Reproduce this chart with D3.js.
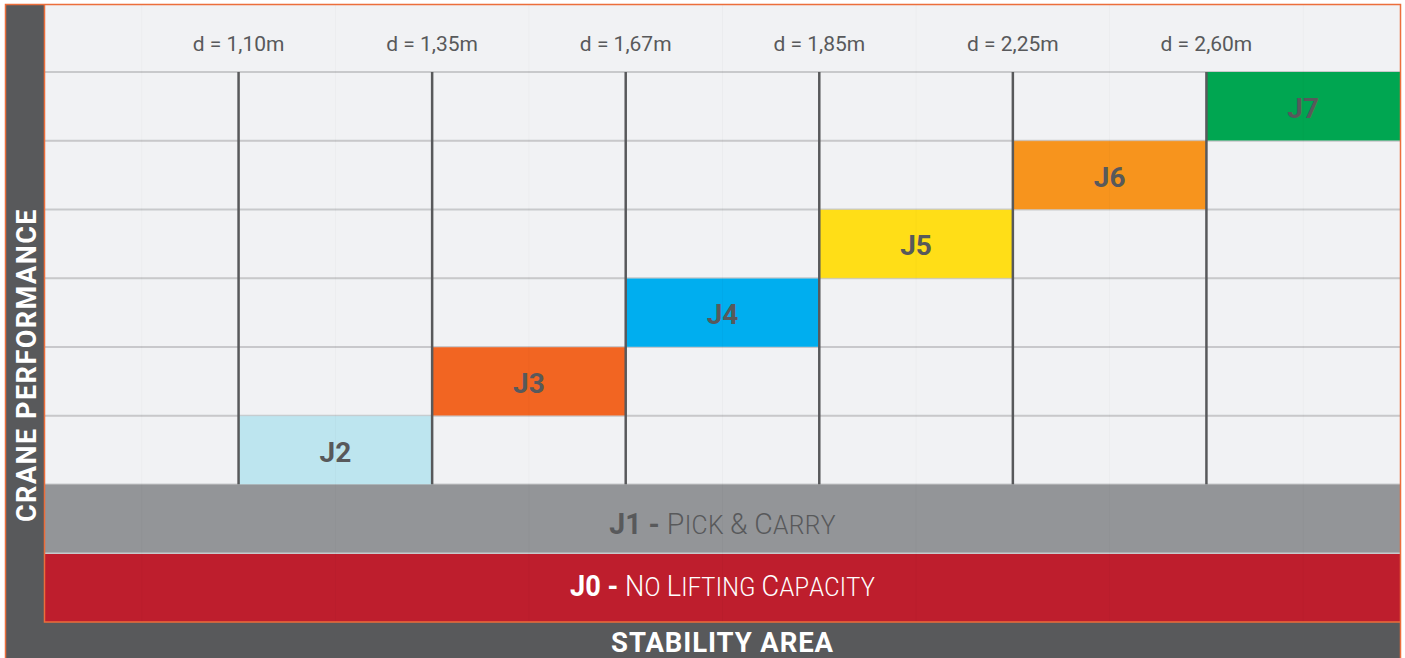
<!DOCTYPE html>
<html>
<head>
<meta charset="utf-8">
<script src="https://cdn.jsdelivr.net/npm/d3@7"></script>
<style>
  body { margin: 0; background: #fff; }
  text { font-family: Roboto, 'Noto Sans', sans-serif; }
</style>
</head>
<body>
<div id="app"></div>
<script>
(function (d3) {

  'use strict'

  // column boundary labels (stability width)
  const distances = ['d = 1,10m', 'd = 1,35m', 'd = 1,67m', 'd = 1,85m', 'd = 2,25m', 'd = 2,60m']
  // performance classes, each in its own column and row
  const classes = ['J2', 'J3', 'J4', 'J5', 'J6', 'J7']
  const classCol = [1, 2, 3, 4, 5, 6]
  const classLevel = [1, 2, 3, 4, 5, 6]
  const classColors = ['#bde5ef', '#f26522', '#00aeef', '#ffde17', '#f7941d', '#00a651']
  // base bands
  const bands = [
    { bold: 'J1 - ', rest: 'Pick & Carry', fill: '#939598', ink: '#58595b', level: 0, dy: 15.5, sx: 0.95 },
    { bold: 'J0 - ', rest: 'No Lifting Capacity', fill: '#be1e2d', ink: '#ffffff', level: -1, dy: 8, sx: 0.905 }
  ]

  const w = 1405
  const h = 658
  const nCols = 7
  const nLevels = 6

  const svg = d3.select('#app')
    .append('svg')
    .attr('width', w)
    .attr('height', h)

  const x = d3.scaleLinear().domain([0, nCols]).range([45, 1400])
  // level 6 top -> level -1 bottom
  const y = d3.scaleLinear().domain([nLevels, -2]).range([72, 622])
  const rowH = y(0) - y(1)

  const dark = '#58595b'
  const orange = '#ec6e3b'

  // frame
  svg.append('rect')
    .attr('x', 5).attr('y', 4).attr('width', 1395).attr('height', h)
    .attr('fill', dark)
  svg.append('rect')
    .attr('x', x(0)).attr('y', 4).attr('width', x(nCols) - x(0)).attr('height', y(-2) - 4)
    .attr('fill', '#f1f2f4')

  // grid lines
  svg.append('g')
    .selectAll('line')
    .data(d3.range(0, nLevels + 1))
    .join('line')
    .attr('x1', x(0)).attr('x2', x(nCols))
    .attr('y1', d => y(d)).attr('y2', d => y(d))
    .attr('stroke', '#c8c9cb')
    .attr('stroke-width', 2)

  // class cells
  const cells = svg.append('g')
    .selectAll('g')
    .data(classes)
    .join('g')
  cells.append('rect')
    .attr('x', (d, i) => x(classCol[i]))
    .attr('y', (d, i) => y(classLevel[i]))
    .attr('width', x(1) - x(0))
    .attr('height', rowH)
    .attr('fill', (d, i) => classColors[i])
  cells.append('text')
    .attr('x', (d, i) => x(classCol[i] + 0.5))
    .attr('y', (d, i) => y(classLevel[i] - 0.5) + 11.5)
    .attr('text-anchor', 'middle')
    .attr('font-size', 28)
    .attr('font-weight', 700)
    .attr('fill', dark)
    .text(d => d)

  svg.append('g')
    .selectAll('line')
    .data(d3.range(1, nLevels))
    .join('line')
    .attr('x1', x(0)).attr('x2', x(nCols))
    .attr('y1', d => y(d)).attr('y2', d => y(d))
    .attr('stroke', '#c8c9cb')
    .attr('stroke-opacity', 0.5)
    .attr('stroke-width', 1)

  // vertical boundaries
  svg.append('g')
    .selectAll('line')
    .data(distances)
    .join('line')
    .attr('x1', (d, i) => x(i + 1)).attr('x2', (d, i) => x(i + 1))
    .attr('y1', y(nLevels)).attr('y2', y(0))
    .attr('stroke', dark)
    .attr('stroke-width', 2.5)

  // header labels
  svg.append('g')
    .selectAll('text')
    .data(distances)
    .join('text')
    .attr('x', (d, i) => x(i + 1))
    .attr('y', 50.5)
    .attr('text-anchor', 'middle')
    .attr('font-size', 21)
    .attr('fill', dark)
    .text(d => d)

  // base bands
  const bg = svg.append('g')
    .selectAll('g')
    .data(bands)
    .join('g')
  bg.append('rect')
    .attr('x', x(0)).attr('width', x(nCols) - x(0))
    .attr('y', d => y(d.level))
    .attr('height', rowH)
    .attr('fill', d => d.fill)
  const bt = bg.append('text')
    .attr('transform', d => `translate(${x(nCols / 2)},${y(d.level - 0.5) + d.dy}) scale(${d.sx},1)`)
    .attr('text-anchor', 'middle')
    .attr('font-size', 30)
    .attr('fill', d => d.ink)
  bt.append('tspan').attr('font-weight', 700).text(d => d.bold)
  // hand-made small caps
  bt.each(function (d) {
    const t = d3.select(this)
    d.rest.split('').forEach(c => {
      const big = c !== c.toLowerCase() || c === '&'
      t.append('tspan')
        .attr('font-size', big ? 30 : 26)
        .attr('font-weight', 300)
        .attr('letter-spacing', 0.3)
        .text(c === ' ' ? '\u00a0' : c.toUpperCase())
    })
  })

  svg.append('line')
    .attr('x1', x(0)).attr('x2', x(nCols))
    .attr('y1', y(-1)).attr('y2', y(-1))
    .attr('stroke', '#c8c9cb').attr('stroke-width', 1.5)

  // faint half-column lines
  svg.append('g')
    .selectAll('line')
    .data(d3.range(0.5, nCols, 1))
    .join('line')
    .attr('x1', d => x(d)).attr('x2', d => x(d))
    .attr('y1', 4).attr('y2', y(-2))
    .attr('stroke', '#000')
    .attr('stroke-opacity', 0.025)

  // orange border lines
  const b = svg.append('g').attr('stroke', orange).attr('stroke-width', 1.5).attr('fill', 'none')
  b.append('path').attr('d', `M5.5,${h}V4.5H1400.5V${h}`)
  b.append('path').attr('d', `M${x(0) - 0.5},4.5V${y(-2)}H1400.5`)

  // axis titles
  svg.append('text')
    .attr('x', x(nCols / 2))
    .attr('y', 652)
    .attr('text-anchor', 'middle')
    .attr('font-size', 27.5)
    .attr('font-weight', 700)
    .attr('letter-spacing', 0.9)
    .attr('fill', '#fff')
    .text('STABILITY AREA')
  svg.append('text')
    .attr('transform', `translate(36,365) rotate(-90)`)
    .attr('text-anchor', 'middle')
    .attr('font-size', 27)
    .attr('font-weight', 700)
    .attr('letter-spacing', 1.5)
    .attr('fill', '#fff')
    .text('CRANE PERFORMANCE')

}(d3))
</script>
</body>
</html>
